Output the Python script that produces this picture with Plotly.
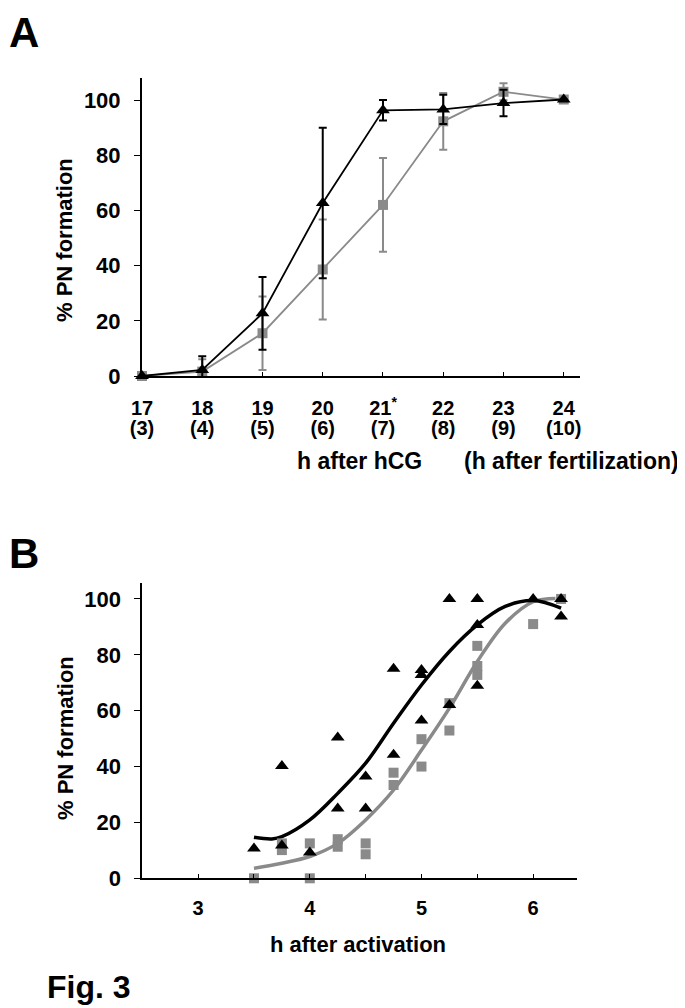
import plotly.graph_objects as go

# ---------- Panel A data ----------
hours_hcg = [17, 18, 19, 20, 21, 22, 23, 24]
hours_fert = [3, 4, 5, 6, 7, 8, 9, 10]
a_black = [0, 2.2, 22.7, 62.7, 96.3, 96.6, 98.9, 100.2]
a_black_err = [None, 5.0, 13.2, 27.3, 3.7, 5.3, 4.8, None]
a_gray = [0, 1.6, 15.5, 38.6, 62.0, 92.3, 103.0, 100.2]
a_gray_err = [None, 4.5, 13.3, 18.1, 17.0, 10.3, 3.1, None]

# ---------- Panel B data ----------
b_black_x = [3.5, 3.75, 3.75, 4.0, 4.25, 4.25, 4.5, 4.5, 4.75, 4.75, 5.0, 5.0, 5.0,
             5.25, 5.25, 5.5, 5.5, 5.5, 6.0, 6.25, 6.25]
b_black_y = [10.7, 40.2, 11.7, 9.2, 50.4, 25.0, 36.4, 25.0, 75.0, 44.2, 74.6, 72.8, 56.5,
             62.0, 100, 100, 90.7, 68.9, 100, 100, 93.7]
b_gray_x = [3.5, 3.75, 3.75, 4.0, 4.0, 4.25, 4.25, 4.5, 4.5, 4.75, 4.75, 5.0, 5.0,
            5.25, 5.25, 5.5, 5.5, 5.5, 6.0, 6.25]
b_gray_y = [0, 12.5, 10.1, 12.5, 0, 14.0, 11.3, 12.5, 8.6, 37.8, 33.4, 49.8, 40.0,
            62.7, 52.9, 83.2, 76.0, 72.8, 91.0, 100]
# fitted curves
b_black_fit_x = [3.5, 3.66, 3.75, 4.0, 4.25, 4.5, 4.75, 5.0, 5.25, 5.5, 5.75, 6.0, 6.25]
b_black_fit_y = [14.7, 14.1, 14.9, 20.9, 30.4, 41.2, 55.5, 69.2, 81.2, 90.7, 97.3, 99.4, 96.7]
b_gray_fit_x = [3.5, 3.75, 4.0, 4.25, 4.5, 4.75, 5.0, 5.25, 5.5, 5.75, 6.0, 6.2]
b_gray_fit_y = [3.6, 5.4, 7.8, 12.5, 20.9, 31.6, 45.9, 60.9, 77.6, 91.3, 99.0, 100.2]

y_ticks = [0, 20, 40, 60, 80, 100]
b_x_ticks = [3, 4, 5, 6]

BLACK = "#000000"
GRAY = "#8a8a8a"
FONT = "Liberation Sans, Arial, Helvetica, sans-serif"
# page body has an 8px margin: figure is drawn at (8, 8) in the window
OFF = 8
W, H = 685 - OFF, 1008 - OFF


def fx(px):  # window x pixel -> paper fraction
    return (px - OFF) / W


def fy(py):  # window y pixel -> paper fraction
    return 1 - (py - OFF) / H


a_hcg_text = [f"{h}<sup>*</sup>" if h == 21 else f"{h}" for h in hours_hcg]
a_fert_text = [f"({f})" for f in hours_fert]

fig = go.Figure()

# Panel A
fig.add_trace(go.Scatter(
    x=hours_hcg, y=a_gray, mode="lines+markers", xaxis="x", yaxis="y",
    line=dict(color=GRAY, width=1.8),
    marker=dict(symbol="square", size=10, color=GRAY),
    error_y=dict(type="data", array=a_gray_err, color=GRAY, thickness=2, width=4),
    cliponaxis=False, showlegend=False))
fig.add_trace(go.Scatter(
    x=hours_hcg, y=a_black, mode="lines+markers", xaxis="x", yaxis="y",
    line=dict(color=BLACK, width=1.8),
    marker=dict(symbol="triangle-up", size=12, color=BLACK),
    error_y=dict(type="data", array=a_black_err, color=BLACK, thickness=2, width=4),
    cliponaxis=False, showlegend=False))
# invisible companion trace so the "(h after fertilization)" tick row is rendered
fig.add_trace(go.Scatter(
    x=hours_hcg, y=a_black, mode="lines", xaxis="x3", yaxis="y",
    line=dict(width=0, color="rgba(0,0,0,0)"), hoverinfo="skip", showlegend=False))

# Panel B
fig.add_trace(go.Scatter(
    x=b_gray_fit_x, y=b_gray_fit_y, mode="lines", xaxis="x2", yaxis="y2",
    line=dict(color=GRAY, width=3.5, shape="spline"), showlegend=False))
fig.add_trace(go.Scatter(
    x=b_black_fit_x, y=b_black_fit_y, mode="lines", xaxis="x2", yaxis="y2",
    line=dict(color=BLACK, width=3.5, shape="spline"), showlegend=False))
fig.add_trace(go.Scatter(
    x=b_gray_x, y=b_gray_y, mode="markers", xaxis="x2", yaxis="y2",
    marker=dict(symbol="square", size=10, color=GRAY),
    cliponaxis=False, showlegend=False))
fig.add_trace(go.Scatter(
    x=b_black_x, y=b_black_y, mode="markers", xaxis="x2", yaxis="y2",
    marker=dict(symbol="triangle-up", size=12, color=BLACK),
    cliponaxis=False, showlegend=False))


def bfont(size):
    return dict(family=FONT, size=size, color="black", weight="bold")


A_XDOM = [fx(142), fx(580)]
A_YDOM = [fy(376), fy(78)]
B_XDOM = [fx(142.3), fx(576.7)]
B_YDOM = [fy(878.3), fy(583.3)]

common_y = dict(tickvals=y_ticks, ticks="outside", ticklen=6, tickwidth=1, tickcolor="black",
                showline=True, linecolor="black", linewidth=2, showgrid=False,
                zeroline=False, tickfont=bfont(22), ticklabelstandoff=9, automargin=False)

fig.update_layout(
    width=W, height=H,
    margin=dict(l=0, r=0, t=0, b=0),
    paper_bgcolor="white", plot_bgcolor="white",
    xaxis=dict(domain=A_XDOM, range=[17, 24.27],
               tickvals=hours_hcg, ticktext=a_hcg_text,
               ticks="inside", ticklen=4, tickwidth=1, tickcolor="black",
               showline=True, linecolor="black", linewidth=2,
               showgrid=False, zeroline=False, tickfont=bfont(20),
               ticklabelstandoff=13, anchor="y", automargin=False),
    xaxis3=dict(domain=A_XDOM, range=[17, 24.27], overlaying="x", anchor="y", side="bottom",
                tickvals=hours_hcg, ticktext=a_fert_text, ticks="",
                showline=False, showgrid=False, zeroline=False, tickfont=bfont(20),
                ticklabelstandoff=38, automargin=False),
    yaxis=dict(domain=A_YDOM, range=[0, 108], anchor="x", **common_y),
    xaxis2=dict(domain=B_XDOM, range=[2.5, 6.39],
                tickvals=b_x_ticks,
                ticks="inside", ticklen=4, tickwidth=1, tickcolor="black",
                minor=dict(dtick=0.5, tick0=3, ticks="inside", ticklen=4, tickwidth=1,
                           tickcolor="black", showgrid=False),
                showline=True, linecolor="black", linewidth=2,
                showgrid=False, zeroline=False, tickfont=bfont(20),
                ticklabelstandoff=11, anchor="y2", automargin=False),
    yaxis2=dict(domain=B_YDOM, range=[0, 105.6], anchor="x2", **common_y),
)


def ann(text, x, y, size, xanchor="center", angle=0, pad=1):
    fig.add_annotation(xref="paper", yref="paper", x=fx(x), y=fy(y),
                       xanchor=xanchor, yanchor="middle", text=text, showarrow=False,
                       textangle=angle, font=bfont(size), borderpad=pad)


# axis titles
ann("% PN formation", 65, 240, 22, angle=-90)
ann("% PN formation", 65, 738, 22, angle=-90)
ann("h after activation", 358, 944, 22)
ann("h after hCG", 360, 461, 23)
ann("(h after fertilization)", 571, 461, 23)
# panel labels
ann("A", 8, 32, 42, xanchor="left", pad=0)
ann("B", 8, 553, 42, xanchor="left", pad=0)
ann("Fig. 3", 45, 987, 32, xanchor="left")

fig.write_html("out.html")
